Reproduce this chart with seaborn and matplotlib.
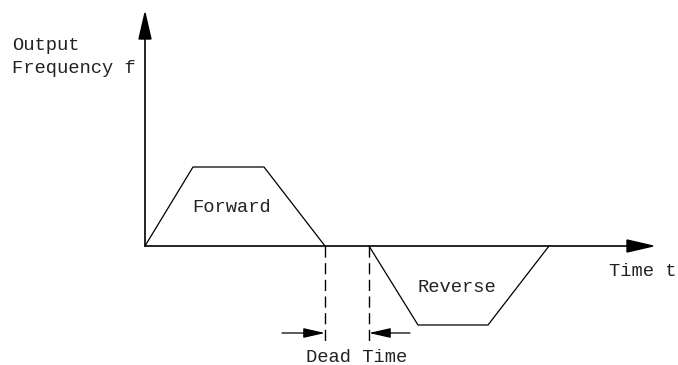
"""
Forward / reverse output frequency profile with dead time.
"""

import matplotlib
matplotlib.use("Agg")
import matplotlib.pyplot as plt
import pandas as pd
import seaborn as sns

# ── Data (time / frequency in drawing units, origin at axis crossing) ──
forward_t = [0, 48, 119, 180]
forward_f = [0, 79, 79, 0]
reverse_t = [224, 273, 343, 404]
reverse_f = [0, -79, -79, 0]
dead_start, dead_end = 180, 224
axis_t_end = 508
axis_f_end = 233

labels = {
    "y": "Output\nFrequency f",
    "x": "Time t",
    "fwd": "Forward",
    "rev": "Reverse",
    "dead": "Dead Time",
}

sns.set_theme(style="white")
plt.rcParams["font.family"] = ["Liberation Mono", "DejaVu Sans Mono"]

fig = plt.figure(figsize=(6.78, 3.65), dpi=100)
ax = fig.add_axes([0, 0, 1, 1])
ax.set_xlim(-145, 533)
ax.set_ylim(-119, 246)
ax.axis("off")

# ── Profiles ─────────────────────────────────────────────────────────
df = pd.concat([
    pd.DataFrame({"t": forward_t, "f": forward_f, "dir": "fwd"}),
    pd.DataFrame({"t": reverse_t, "f": reverse_f, "dir": "rev"}),
])
sns.lineplot(data=df, x="t", y="f", units="dir", estimator=None,
             sort=False, color="black", linewidth=0.9, ax=ax)

# ── Axes with arrows ─────────────────────────────────────────────────
ax.plot([0, axis_t_end - 25], [0, 0], color="black", lw=1.2)
ax.plot([0, 0], [0, axis_f_end - 25], color="black", lw=1.2)
ax.arrow(axis_t_end - 26, 0, 26, 0, width=0.6, head_width=12,
         head_length=26, length_includes_head=True, color="black")
ax.arrow(0, axis_f_end - 26, 0, 26, width=0.6, head_width=12,
         head_length=26, length_includes_head=True, color="black")

# ── Dead time markers ────────────────────────────────────────────────
for x0 in (dead_start, dead_end):
    ax.plot([x0, x0], [0, -96], color="black", lw=1.0,
            dashes=(8, 4))
ax.annotate("", xy=(dead_start, -87), xytext=(dead_start - 43, -87),
            arrowprops=dict(arrowstyle="-|>,head_length=1.1,head_width=0.25",
                            color="black", lw=0.9, shrinkA=0, shrinkB=0))
ax.annotate("", xy=(dead_end, -87), xytext=(dead_end + 41, -87),
            arrowprops=dict(arrowstyle="-|>,head_length=1.1,head_width=0.25",
                            color="black", lw=0.9, shrinkA=0, shrinkB=0))

# ── Text ─────────────────────────────────────────────────────────────
fs = 13.5
ax.text(-133, 189, labels["y"], fontsize=fs, ha="left", va="center",
        linespacing=1.45, color="#222222")
ax.text(498, -26, labels["x"], fontsize=fs, ha="center", va="center",
        color="#222222")
ax.text(87, 38, labels["fwd"], fontsize=fs, ha="center", va="center",
        color="#222222")
ax.text(312, -41, labels["rev"], fontsize=fs, ha="center", va="center",
        color="#222222")
ax.text(212, -111, labels["dead"], fontsize=fs, ha="center", va="center",
        color="#222222")

fig.savefig("out.png", dpi=100)
